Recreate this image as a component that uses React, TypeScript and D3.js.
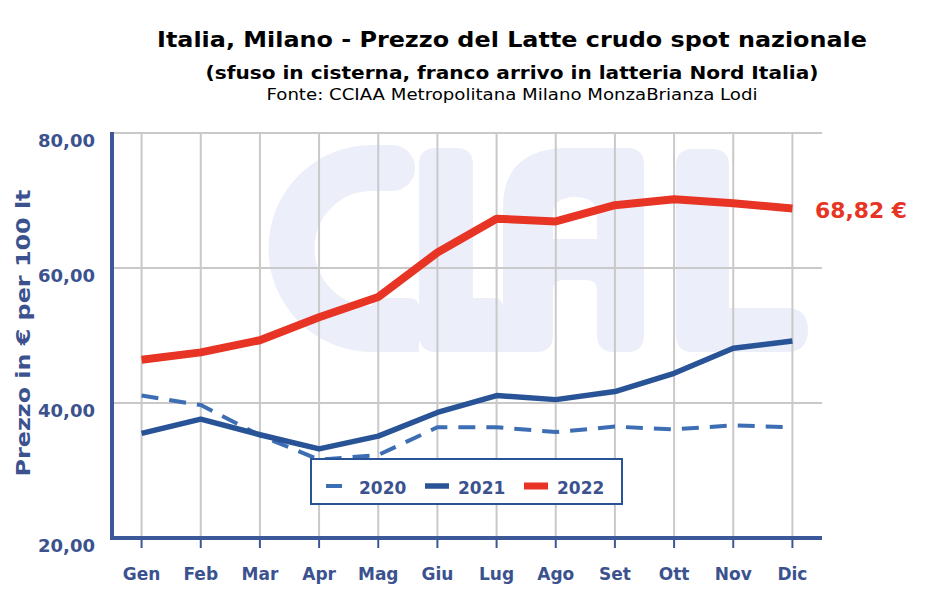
import React from "react";
import * as d3 from "d3";

const months = ["Gen", "Feb", "Mar", "Apr", "Mag", "Giu", "Lug", "Ago", "Set", "Ott", "Nov", "Dic"];
const values2020 = [41.1, 39.7, 35.2, 31.6, 32.3, 36.4, 36.4, 35.7, 36.5, 36.1, 36.7, 36.4];
const values2021 = [35.5, 37.6, 35.3, 33.2, 35.1, 38.6, 41.1, 40.5, 41.7, 44.4, 48.1, 49.2];
const values2022 = [46.4, 47.5, 49.3, 52.7, 55.7, 62.3, 67.3, 66.9, 69.3, 70.2, 69.6, 68.82];
const yTicks = [20, 40, 60, 80];
const lastLabel = "68,82 €";

const W = 952;
const H = 616;
const left = 112;
const right = 822;
const top = 133;
const bottom = 538;

const AXIS = "#3d5898";
const TEXT = "#3b528f";
const GRID = "#c9c9c9";
const C2020 = "#3d6db3";
const C2021 = "#285396";
const C2022 = "#e83424";
const WM = "#eceef9";
const FONT = "'DejaVu Sans', Verdana, sans-serif";

function fmt(v: number) {
  return d3.format(".2f")(v).replace(".", ",");
}

export default function App() {
  const x = d3.scalePoint<string>().domain(months).range([left, right]).padding(0.5);
  const y = d3.scaleLinear().domain([20, 80]).range([bottom, top]);
  const line = d3
    .line<number>()
    .x((_, i) => x(months[i]) as number)
    .y((d) => y(d));

  // watermark "CIAL" shapes (decorative)
  const cPath = "M 392 168 H 372 A 80 80 0 0 0 372 329 H 400";
  const cBase = "M 372 306 H 419 V 352 H 372 Z M 372 298 H 409 Q 419 298 419 308 V 330 H 372 Z";
  const iPath = "M 436 148 H 456 Q 473 148 473 165 V 298 H 493 Q 503 298 503 308 V 352 H 436 Q 419 352 419 335 V 165 Q 419 148 436 148 Z";
  const aPath =
    "M 503 352 V 208 Q 503 148 568 148 H 627 Q 644 148 644 165 V 335 Q 644 352 627 352 H 614 Q 597 352 597 335 V 290 Q 597 280 587 280 H 563 Q 553 280 553 290 V 335 Q 553 352 536 352 Z " +
    "M 553 239 H 597 V 215 Q 597 197 575 197 Q 553 197 553 215 Z";
  const lPath =
    "M 693 149 H 712 Q 729 149 729 166 V 308 H 786 Q 808 308 808 330 Q 808 352 786 352 H 693 Q 676 352 676 335 V 166 Q 676 149 693 149 Z";

  return (
    <svg
      width={W}
      height={H}
      style={{ position: "absolute", left: 0, top: 0, background: "#fff" }}
      fontFamily={FONT}
    >
      <rect x={0} y={0} width={W} height={H} fill="#fff" />
      {/* titles */}
      <text x={512} y={47} textAnchor="middle" fontSize={22} fontWeight="bold" fill="#000" textLength={710} lengthAdjust="spacingAndGlyphs">
        Italia, Milano - Prezzo del Latte crudo spot nazionale
      </text>
      <text x={512} y={79} textAnchor="middle" fontSize={18} fontWeight="bold" fill="#000" textLength={613} lengthAdjust="spacingAndGlyphs">
        (sfuso in cisterna, franco arrivo in latteria Nord Italia)
      </text>
      <text x={512} y={100} textAnchor="middle" fontSize={16} fill="#000" textLength={491} lengthAdjust="spacingAndGlyphs">
        Fonte: CCIAA Metropolitana Milano MonzaBrianza Lodi
      </text>

      {/* watermark */}
      <g fill={WM}>
        <path d={cPath} fill="none" stroke={WM} strokeWidth={46} strokeLinecap="round" />
        <path d={cBase} />
        <path d={iPath} />
        <path d={aPath} fillRule="evenodd" />
        <path d={lPath} />
      </g>

      {/* grid */}
      <g stroke={GRID} strokeWidth={2}>
        {yTicks.filter((t) => t > 20).map((t) => (
          <line key={"h" + t} x1={left} x2={right} y1={y(t)} y2={y(t)} />
        ))}
        {months.map((m) => (
          <line key={"v" + m} x1={x(m)} x2={x(m)} y1={top} y2={bottom} />
        ))}
      </g>

      {/* axes */}
      <line x1={left} x2={left} y1={top - 1} y2={bottom + 2} stroke={AXIS} strokeWidth={4} />
      <line x1={left - 2} x2={right} y1={bottom} y2={bottom} stroke={AXIS} strokeWidth={4} />
      {months.map((m) => (
        <line key={"t" + m} x1={x(m)} x2={x(m)} y1={bottom} y2={bottom + 10} stroke={AXIS} strokeWidth={2} />
      ))}
      {yTicks.map((t) => (
        <text key={"yl" + t} x={95} y={y(t) + 14} textAnchor="end" fontSize={18} fontWeight="bold" fill={TEXT} textLength={57} lengthAdjust="spacingAndGlyphs">
          {fmt(t)}
        </text>
      ))}
      {months.map((m) => (
        <text key={"xl" + m} x={x(m)} y={580} textAnchor="middle" fontSize={17} fontWeight="bold" fill={TEXT}>
          {m}
        </text>
      ))}
      <text
        transform={`translate(30, ${333}) rotate(-90)`}
        textAnchor="middle"
        fontSize={20}
        fontWeight="bold"
        fill={TEXT}
        textLength={287}
        lengthAdjust="spacingAndGlyphs"
      >
        Prezzo in € per 100 lt
      </text>

      {/* series */}
      <path d={line(values2020) || ""} fill="none" stroke={C2020} strokeWidth={4} strokeDasharray="17 11" />
      <path d={line(values2021) || ""} fill="none" stroke={C2021} strokeWidth={5.5} strokeLinejoin="round" />
      <path d={line(values2022) || ""} fill="none" stroke={C2022} strokeWidth={8} strokeLinejoin="round" />

      <text x={815} y={218} fontSize={21} fontWeight="bold" fill={C2022} textLength={92} lengthAdjust="spacingAndGlyphs">
        {lastLabel}
      </text>

      {/* legend */}
      <rect x={311} y={459} width={311} height={45} fill="#fff" stroke={C2021} strokeWidth={2} />
      <line x1={326} x2={342} y1={486} y2={486} stroke={C2020} strokeWidth={4} />
      <text x={359} y={494} fontSize={17} fontWeight="bold" fill={TEXT}>2020</text>
      <line x1={425} x2={449} y1={486} y2={486} stroke={C2021} strokeWidth={5.5} />
      <text x={458} y={494} fontSize={17} fontWeight="bold" fill={TEXT}>2021</text>
      <line x1={524} x2={548} y1={486} y2={486} stroke={C2022} strokeWidth={7} />
      <text x={557} y={494} fontSize={17} fontWeight="bold" fill={TEXT}>2022</text>
    </svg>
  );
}
